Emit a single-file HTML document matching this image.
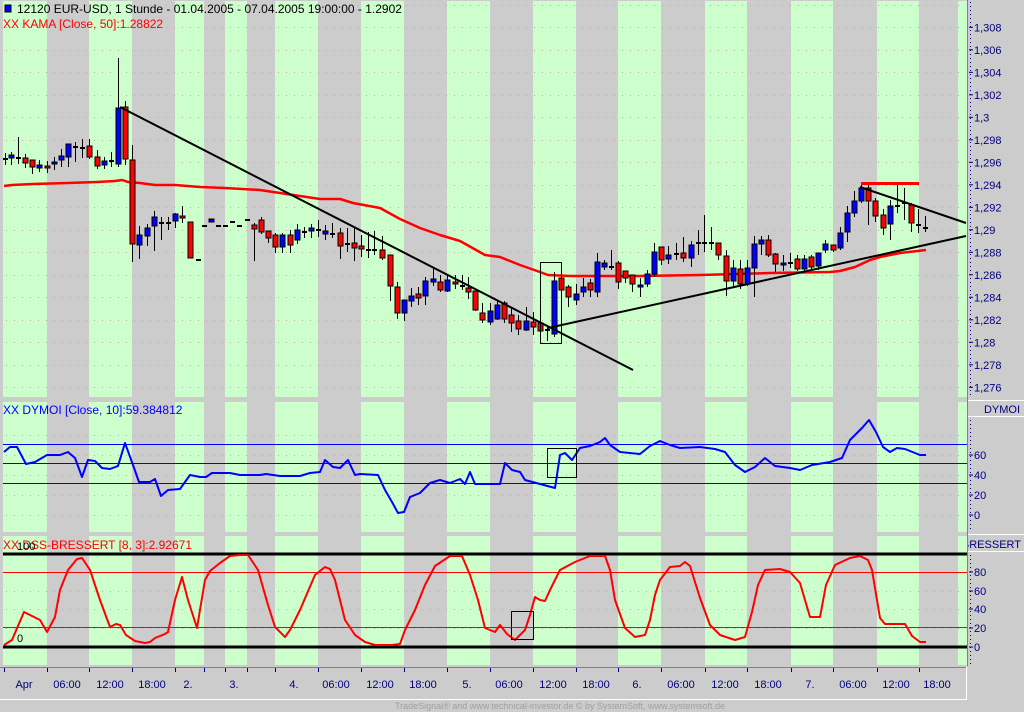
<!DOCTYPE html>
<html><head><meta charset="utf-8"><style>
html,body{margin:0;padding:0;background:#cccccc;width:1024px;height:712px;overflow:hidden}
svg{display:block}
text{font-family:"Liberation Sans",sans-serif}
</style></head><body>
<svg id="s" width="1024" height="712" xmlns="http://www.w3.org/2000/svg"></svg>
<script>
const S=document.getElementById('s');let h='';
const gray=[[47,89],[132,175],[204,225],[247,275],[318,361],[404,447],[490,533],[576,618],[661,705],[747,791],[833,877],[919,958]];
const panels=[[1,397],[402,532],[536,665]];
h+='<rect x="0" y="0" width="1024" height="712" fill="#cccccc"/>';
for(const [a,b] of panels){
 h+=`<rect x="3" y="${a}" width="964" height="${b-a}" fill="#ccffcc"/>`;
 for(const [x1,x2] of gray) h+=`<rect x="${x1}" y="${a}" width="${x2-x1}" height="${b-a}" fill="#cccccc"/>`;
}
// dotted grids
function dots(y){h+=`<line x1="6" x2="966" y1="${y}" y2="${y}" stroke="#b8a8a8" stroke-width="1" stroke-dasharray="1,7"/>`;}
const mainY=v=>27.3+(1.308-v)/0.002*22.5;
for(let i=0;i<=17;i++) dots(Math.round(27.3+i*22.5-22.5)+0.5);
[435,455,475,495,515].forEach(y=>dots(y+.5));
[572,591,609,628].forEach(y=>dots(y+.5));
// right axis
h+='<line x1="967.5" x2="967.5" y1="0" y2="666" stroke="#808080"/>';
const labs=['1,308','1,306','1,304','1,302','1,3','1,298','1,296','1,294','1,292','1,29','1,288','1,286','1,284','1,282','1,28','1,278','1,276'];
h+='<line x1="970.5" x2="970.5" y1="2" y2="397" stroke="#000080" stroke-dasharray="1,3"/>';
labs.forEach((l,i)=>{const y=27.3+i*22.5;h+=`<line x1="969" x2="973" y1="${y}" y2="${y}" stroke="#000080"/><text x="974" y="${y+4}" font-size="11" fill="#000080">${l}</text>`;});
h+='<rect x="968" y="398" width="56" height="4" fill="#cccccc"/><line x1="968" x2="1024" y1="400.5" y2="400.5" stroke="#fff"/>';
h+='<line x1="968" x2="1024" y1="416.5" y2="416.5" stroke="#fff"/><text x="1020" y="413" font-size="11" fill="#000080" text-anchor="end">DYMOI</text>';
h+='<line x1="970.5" x2="970.5" y1="420" y2="530" stroke="#000080" stroke-dasharray="1,3"/>';
[[60,455],[40,475],[20,495],[0,515]].forEach(([l,y])=>{h+=`<line x1="969" x2="973" y1="${y}" y2="${y}" stroke="#000080"/><text x="974" y="${y+4}" font-size="11" fill="#000080">${l}</text>`;});
h+='<line x1="968" x2="1024" y1="534.5" y2="534.5" stroke="#fff"/><line x1="968" x2="1024" y1="551.5" y2="551.5" stroke="#fff"/>';
h+='<svg x="968" y="535" width="56" height="16"><text x="53" y="13" font-size="11" fill="#000080" text-anchor="end">BRESSERT</text></svg>';
h+='<line x1="970.5" x2="970.5" y1="555" y2="664" stroke="#000080" stroke-dasharray="1,3"/>';
[[80,572],[60,591],[40,609],[20,628],[0,647]].forEach(([l,y])=>{h+=`<line x1="969" x2="973" y1="${y}" y2="${y}" stroke="#000080"/><text x="974" y="${y+4}" font-size="11" fill="#000080">${l}</text>`;});
// x axis
h+='<line x1="0" x2="967" y1="667.5" y2="667.5" stroke="#808080"/><line x1="0" x2="967" y1="699.5" y2="699.5" stroke="#fff"/><line x1="966.5" x2="966.5" y1="667" y2="700" stroke="#fff"/>';
[4,47,89,132,175,204,225,247,275,318,361,404,447,490,533,576,618,661,705,747,791,833,877,919].forEach(x=>{h+=`<line x1="${x+.5}" x2="${x+.5}" y1="668" y2="672" stroke="#000080"/>`;});
[['Apr',24],['06:00',67],['12:00',110],['18:00',152],['2.',188],['3.',234],['4.',294],['06:00',336],['12:00',380],['18:00',423],['5.',467],['06:00',509],['12:00',553],['18:00',596],['6.',637],['06:00',681],['12:00',725],['18:00',768],['7.',810],['06:00',853],['12:00',896],['18:00',937]].forEach(([t,x])=>{h+=`<text x="${x}" y="688" font-size="11" fill="#000080" text-anchor="middle">${t}</text>`;});
h+='<text x="560" y="709" font-size="9" fill="#a0a0a0" text-anchor="middle">TradeSignal® and www.technical-investor.de © by SystemSoft, www.systemsoft.de</text>';
// KAMA
const kama=[[4,186],[12,185],[33,184],[68,183],[97,182],[115,181],[122,180],[128,182],[140,183],[155,185],[175,185],[200,187],[225,188],[260,190],[280,193],[300,196],[320,199],[340,199],[353,203],[380,208],[400,219],[420,228],[440,235],[460,241],[485,255],[500,257],[520,265],[540,272],[548,275],[570,276],[640,276],[700,275],[770,273],[830,272],[840,271],[855,267],[870,260],[880,257],[900,253],[926,250]];
const pl=(p,c,w)=>`<polyline points="${p.map(a=>a.join(',')).join(' ')}" fill="none" stroke="${c}" stroke-width="${w}" stroke-linejoin="round"/>`;
h+=pl(kama,'#ff0000',2.5);
// candles [x,high,top,bottom,low,col]
const C=[[4.5,153,158,159,165,'k'],[11,152,155,158,165,'b'],[18,137,157,158,164,'k'],[25,154,158,163,168,'r'],[32,160,160,167,174,'r'],[39,160,165,168,172,'b'],[47,161,166,168,173,'r'],[54,157,162,164,170,'b'],[61,149,156,160,167,'b'],[68,144,144,157,167,'b'],[75,142,146,147,162,'k'],[82,139,147,148,158,'k'],[89,139,146,157,159,'r'],[97,150,157,166,169,'r'],[104,157,161,165,169,'b'],[111,152,160,161,167,'k'],[118,58,108,164,167,'b'],[125,101,107,159,165,'r'],[132,145,160,244,262,'r'],[139,226,235,245,259,'b'],[147,224,228,236,246,'b'],[154,211,217,226,251,'b'],[161,217,222,223,240,'k'],[168,217,222,223,230,'k'],[175,213,214,221,228,'b'],[182,206,216,218,223,'r'],[190,222,222,258,258,'r'],[198,259,259,260,259,'k'],[204,225,225,226,225,'k'],[211,219,219,222,222,'b'],[218,225,225,226,225,'k'],[225,225,225,226,225,'k'],[232,221,221,222,221,'k'],[239,225,225,226,225,'k'],[247,219,219,220,219,'k'],[254,223,225,229,261,'r'],[261,217,220,232,234,'r'],[268,231,231,238,243,'r'],[275,233,235,247,253,'r'],[282,233,235,247,253,'b'],[290,230,235,245,253,'r'],[297,224,230,240,244,'b'],[304,227,231,232,238,'k'],[311,224,228,231,238,'b'],[318,220,229,230,237,'k'],[325,225,231,234,240,'b'],[332,223,233,234,238,'k'],[340,228,233,246,259,'r'],[347,228,243,244,252,'k'],[354,228,243,248,261,'r'],[361,235,246,249,257,'r'],[368,232,249,250,258,'k'],[374,231,249,250,255,'k'],[382,236,250,258,260,'r'],[390,255,255,286,301,'r'],[397,282,287,313,319,'r'],[404,300,300,313,321,'b'],[411,288,296,301,307,'b'],[418,287,294,298,305,'r'],[425,277,281,296,305,'b'],[433,269,279,282,286,'b'],[440,275,282,290,292,'r'],[447,275,280,291,292,'b'],[455,275,282,284,289,'r'],[462,275,285,286,290,'k'],[468,277,288,292,299,'r'],[475,291,291,310,311,'r'],[482,303,313,320,323,'r'],[490,303,311,322,325,'b'],[497,301,305,319,320,'b'],[504,301,303,319,323,'r'],[511,307,315,323,332,'r'],[518,315,321,329,335,'r'],[526,307,321,330,331,'b'],[533,312,322,327,335,'r'],[540,320,323,331,339,'r'],[547,325,329,330,341,'k'],[554,272,281,334,337,'b'],[561,276,278,290,291,'r'],[568,285,287,297,307,'r'],[576,284,294,300,305,'b'],[583,278,287,292,297,'b'],[590,279,283,290,297,'r'],[597,253,262,292,297,'b'],[604,260,263,267,270,'b'],[611,250,266,267,270,'k'],[618,261,263,282,289,'r'],[625,271,271,278,283,'r'],[632,275,275,284,292,'r'],[640,278,285,287,297,'b'],[647,270,274,284,287,'b'],[654,243,252,274,277,'b'],[661,247,247,260,265,'r'],[668,246,255,259,264,'b'],[676,243,253,254,260,'k'],[683,237,253,258,262,'r'],[691,241,245,258,267,'b'],[698,230,242,243,255,'k'],[704,215,242,243,252,'k'],[711,227,242,243,250,'k'],[718,243,243,255,260,'r'],[726,250,256,281,296,'r'],[733,260,268,281,288,'b'],[740,260,269,284,289,'r'],[747,260,268,284,286,'b'],[754,236,244,268,297,'b'],[761,236,240,244,255,'b'],[768,235,240,255,257,'r'],[775,253,254,264,272,'r'],[783,255,263,265,271,'b'],[790,253,262,263,268,'k'],[797,255,259,269,271,'r'],[804,255,259,269,272,'b'],[811,255,257,267,270,'r'],[818,253,253,266,270,'b'],[825,240,244,250,253,'b'],[833,245,245,250,252,'r'],[840,227,233,248,250,'b'],[847,206,213,232,242,'b'],[854,191,201,213,217,'b'],[861,185,188,201,203,'b'],[868,185,188,201,225,'r'],[875,198,201,216,222,'r'],[883,209,215,228,235,'r'],[890,200,206,224,240,'b'],[897,185,205,206,213,'k'],[904,188,202,203,220,'k'],[911,203,205,223,232,'r'],[918,209,224,225,233,'k'],[925,216,227,228,232,'k']];
for(const [x,hi,t,b,lo,c] of C){
 const X=Math.round(x);
 h+=`<line x1="${X+.5}" x2="${X+.5}" y1="${hi}" y2="${lo}" stroke="#000"/>`;
 if(c==='k'){h+=`<rect x="${X-2}" y="${t}" width="5" height="2" fill="#000"/>`;}
 else h+=`<rect x="${X-2}" y="${t}" width="5" height="${Math.max(b-t,2)}" fill="${c==='b'?'#0000ff':'#ff0000'}" stroke="#000" stroke-width="1"/>`;
}
// trendlines
h+='<line x1="120" y1="107" x2="633" y2="370" stroke="#000" stroke-width="2"/>';
h+='<line x1="548" y1="328" x2="966" y2="236" stroke="#000" stroke-width="2"/>';
h+='<line x1="860" y1="187" x2="966" y2="223" stroke="#000" stroke-width="2"/>';
h+='<line x1="861" y1="183.5" x2="919" y2="183.5" stroke="#ff0000" stroke-width="3"/>';
h+='<rect x="540.5" y="262.5" width="21" height="81" fill="none" stroke="#000"/>';
// DYMOI
[444,463,483].forEach(y=>{h+=`<line x1="3" x2="967" y1="${y+.5}" y2="${y+.5}" stroke="#0000ff"/>`;});
const dy=[[4,452],[10,447],[17,447],[26,464],[35,462],[47,455],[60,455],[68,452],[75,458],[82,477],[88,460],[95,461],[102,468],[110,469],[118,466],[125,443],[133,465],[139,482],[150,482],[155,479],[161,496],[168,490],[180,489],[190,475],[200,477],[206,477],[212,473],[230,473],[240,475],[260,475],[266,474],[280,476],[300,476],[310,473],[320,472],[325,460],[333,467],[340,468],[348,460],[355,475],[360,474],[378,475],[385,490],[392,502],[398,513],[404,512],[410,497],[420,493],[430,483],[440,480],[450,483],[460,479],[465,484],[470,472],[475,484],[500,484],[505,463],[512,470],[520,472],[525,480],[540,484],[555,488],[560,455],[565,453],[572,460],[580,448],[590,446],[600,442],[605,438],[610,445],[620,452],[640,454],[650,446],[660,441],[670,445],[680,448],[700,447],[715,449],[725,452],[735,465],[745,472],[755,467],[765,458],[775,466],[790,468],[800,470],[812,465],[830,462],[842,458],[850,440],[856,434],[862,428],[869,420],[876,432],[883,447],[890,452],[897,448],[905,449],[920,455],[926,455]];
h+=pl(dy,'#0000ff',2);
h+='<rect x="547.5" y="448.5" width="29" height="29" fill="none" stroke="#000"/>';
// BRESSERT
h+='<line x1="3" x2="967" y1="554" y2="554" stroke="#000" stroke-width="3"/><line x1="3" x2="967" y1="647" y2="647" stroke="#000" stroke-width="3"/>';
h+='<line x1="3" x2="967" y1="572.5" y2="572.5" stroke="#ff0000"/><line x1="3" x2="967" y1="627.5" y2="627.5" stroke="#ff0000"/>';
const br=[[4,645],[12,640],[24,612],[40,620],[47,632],[55,617],[60,590],[68,570],[77,559],[82,558],[90,570],[100,600],[110,627],[116,624],[120,625],[126,635],[135,641],[145,643],[150,642],[155,638],[165,634],[168,632],[175,600],[182,577],[188,600],[197,628],[205,580],[210,571],[220,563],[230,556],[240,555],[248,555],[258,570],[268,605],[275,627],[285,637],[290,630],[300,610],[315,575],[325,567],[330,569],[335,580],[345,620],[355,635],[365,642],[375,645],[392,645],[400,644],[405,630],[415,610],[425,585],[435,566],[450,556],[462,556],[470,575],[478,600],[485,628],[495,632],[500,625],[507,634],[515,640],[525,630],[530,615],[535,597],[540,600],[545,601],[550,590],[555,580],[560,570],[575,562],[590,556],[605,556],[610,570],[615,600],[625,628],[635,637],[645,635],[650,620],[655,595],[660,580],[670,567],[680,566],[685,562],[690,566],[700,598],[710,625],[720,635],[735,640],[745,637],[752,612],[758,585],[765,570],[780,569],[790,572],[800,583],[805,600],[810,617],[820,617],[826,585],[835,565],[850,558],[860,556],[868,560],[872,570],[880,618],[885,624],[905,624],[912,636],[920,642],[926,642]];
h+=pl(br,'#ff0000',2);
h+='<rect x="511.5" y="611.5" width="22" height="28" fill="none" stroke="#000"/>';
// labels
h+='<rect x="5" y="5" width="6" height="7" fill="#0000ff" stroke="#000"/>';
h+='<text x="17" y="13" font-size="12" fill="#000">12120  EUR-USD, 1 Stunde - 01.04.2005 - 07.04.2005 19:00:00 - 1.2902</text>';
h+='<text x="3" y="28" font-size="12" fill="#ff0000">XX KAMA [Close, 50]:1.28822</text>';
h+='<text x="3" y="414" font-size="12" fill="#0000ff">XX DYMOI [Close, 10]:59.384812</text>';
h+='<text x="3" y="549" font-size="12" fill="#ff0000">XX DSS-BRESSERT [8, 3]:2.92671</text>';
h+='<text x="17" y="550" font-size="11" fill="#000">100</text><text x="17" y="642" font-size="11" fill="#000">0</text>';
S.innerHTML=h;
</script>
</body></html>
